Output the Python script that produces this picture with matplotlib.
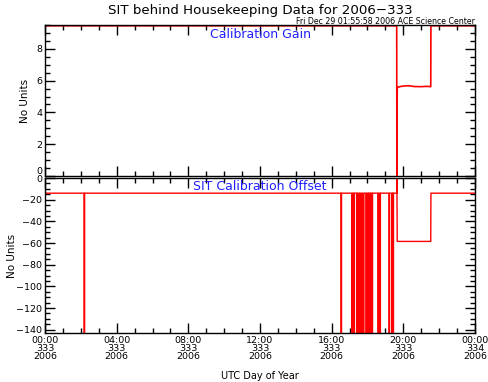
import matplotlib
matplotlib.use("Agg")
import matplotlib.pyplot as plt
from matplotlib.ticker import MultipleLocator, FixedLocator

# ---- data (hours of UTC day 333, 2006) ----
gain_hours = [0.0, 19.63, 19.64, 19.66, 19.80, 20.00, 20.30, 20.60, 21.00, 21.30, 21.53, 21.54, 24.0]
gain_vals = [9.45, 9.45, 0.0, 5.56, 5.62, 5.66, 5.68, 5.63, 5.62, 5.64, 5.62, 9.45, 9.45]

offset_hours = [0.0, 2.18, 2.18, 2.21, 2.21,
                16.52, 16.52, 16.55, 16.55,
                17.13, 17.13, 17.16, 17.16,
                17.24, 17.24, 17.27, 17.27,
                17.41, 17.41, 17.44, 17.44,
                17.52, 17.52, 17.56, 17.56,
                17.63, 17.63, 17.68, 17.68,
                17.74, 17.74, 17.80, 17.80,
                17.91, 17.91, 17.95, 17.95,
                18.03, 18.03, 18.06, 18.06,
                18.14, 18.14, 18.17, 18.17,
                18.25, 18.25, 18.28, 18.28,
                18.58, 18.58, 18.62, 18.62,
                18.69, 18.69, 18.72, 18.72,
                19.20, 19.20, 19.23, 19.23,
                19.36, 19.36, 19.39, 19.39,
                19.42, 19.42, 19.45, 19.45,
                19.64, 19.64, 19.66, 21.53, 21.54, 24.0]
offset_vals = [-14, -14, -150, -150, -14,
               -14, -150, -150, -14,
               -14, -150, -150, -14,
               -14, -150, -150, -14,
               -14, -150, -150, -14,
               -14, -150, -150, -14,
               -14, -150, -150, -14,
               -14, -150, -150, -14,
               -14, -150, -150, -14,
               -14, -150, -150, -14,
               -14, -150, -150, -14,
               -14, -150, -150, -14,
               -14, -150, -150, -14,
               -14, -150, -150, -14,
               -14, -150, -150, -14,
               -14, -150, -150, -14,
               -14, -150, -150, -14,
               -14, 0, -58.5, -58.5, -14, -14]

xtick_hours = [0, 4, 8, 12, 16, 20, 24]
xtick_labels = ["00:00\n333\n2006", "04:00\n333\n2006", "08:00\n333\n2006",
                "12:00\n333\n2006", "16:00\n333\n2006", "20:00\n333\n2006",
                "00:00\n334\n2006"]

title = "SIT behind Housekeeping Data for 2006\u2212333"
subtitle = "Fri Dec 29 01:55:58 2006 ACE Science Center"

plt.rcParams['font.family'] = ['DejaVu Sans']

fig = plt.figure(figsize=(4.88, 3.82), dpi=100)
L, R = 45/488, 475/488
ax1 = fig.add_axes([L, 1-176/382, R-L, (176-25)/382])
ax2 = fig.add_axes([L, 1-333/382, R-L, (333-178)/382])

red = "#ff0000"
ax1.plot(gain_hours, gain_vals, color=red, lw=1.2)
ax2.plot(offset_hours, offset_vals, color=red, lw=1.0)

for ax in (ax1, ax2):
    ax.set_xlim(0, 24)
    ax.xaxis.set_major_locator(FixedLocator(xtick_hours))
    ax.xaxis.set_minor_locator(MultipleLocator(1))
    ax.tick_params(which='both', direction='in', top=True, right=True, labelsize=6.8, width=1, colors='black')
    ax.tick_params(which='major', length=7)
    ax.tick_params(which='minor', length=3.5)
    ax.tick_params(axis='y', pad=2)
    for s in ax.spines.values():
        s.set_linewidth(1.0)

ax1.set_ylim(0, 9.5)
ax1.yaxis.set_major_locator(MultipleLocator(2))
ax1.yaxis.set_minor_locator(MultipleLocator(0.5))
ax1.set_xticklabels([])
ax1.set_yticks([0, 2, 4, 6, 8])
ax1.set_yticklabels(["0", "2", "4", "6", "8"])
for lbl in ax1.get_yticklabels():
    if lbl.get_text() == "0":
        lbl.set_va('bottom')

ax2.set_ylim(-143, 0)
ax2.yaxis.set_major_locator(MultipleLocator(20))
ax2.yaxis.set_minor_locator(MultipleLocator(5))
ax2.set_xticks(xtick_hours)
ax2.set_xticklabels(xtick_labels, linespacing=0.85)
ax2.tick_params(axis='x', pad=2)

ax1.text(-20/430, 0.5, "No Units", transform=ax1.transAxes, rotation=90,
         ha='center', va='center', fontsize=7.5)
ax2.text(-33/430, 0.5, "No Units", transform=ax2.transAxes, rotation=90,
         ha='center', va='center', fontsize=7.5)

ax1.text(0.5, 0.935, "Calibration Gain", transform=ax1.transAxes, ha='center', va='center',
         color='#2020ff', fontsize=9)
ax2.text(0.5, 0.943, "SIT Calibration Offset", transform=ax2.transAxes, ha='center', va='center',
         color='#2020ff', fontsize=9)

fig.text(260/488, 1-14/382, title, ha='center', va='baseline', fontsize=9.6)
fig.text(R, 1-23.5/382, subtitle, ha='right', va='baseline', fontsize=5.7)
fig.text(260/488, 1-376/382, "UTC Day of Year", ha='center', va='center', fontsize=7)

fig.savefig("out.png", dpi=100)
